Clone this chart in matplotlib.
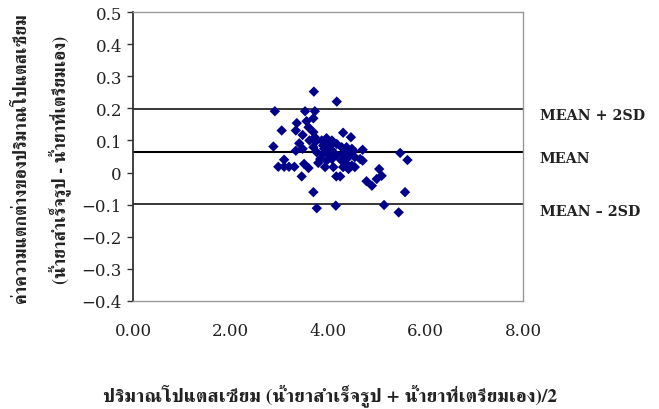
import matplotlib
matplotlib.use("Agg")
import matplotlib.pyplot as plt
from matplotlib import font_manager
from matplotlib.ft2font import FT2Font

# ---------------- data ----------------
avg_values = [
    3.71, 4.18, 2.91, 3.53, 3.73, 3.36, 3.56, 3.70, 3.05, 3.34,
    3.60, 3.70, 3.73, 4.31, 4.47, 2.88, 3.41, 3.34, 3.48, 4.71,
    5.48, 5.63, 3.10, 2.98, 3.10, 3.20, 3.31, 3.51, 3.60, 3.46,
    3.80, 3.94, 4.11, 4.17, 4.71, 5.05, 5.10, 5.00, 4.79, 4.90,
    5.58, 5.15, 5.45, 3.70, 3.77, 4.16, 3.87, 3.97, 4.08, 3.90,
    4.04, 4.18, 4.28, 4.38, 4.52, 3.70, 3.77, 3.90, 4.04, 4.18,
    4.35, 4.45, 4.55, 4.66, 3.84, 3.97, 4.08, 4.28, 4.38, 4.49,
    4.31, 4.42, 4.25, 4.38, 4.49, 4.31, 4.42, 4.55, 3.75, 3.93,
    4.08, 3.62, 3.48, 3.92, 4.00,
]
diff_values = [
    0.252, 0.221, 0.191, 0.191, 0.191, 0.154, 0.160, 0.169, 0.131, 0.131,
    0.141, 0.126, 0.110, 0.124, 0.110, 0.081, 0.091, 0.068, 0.074, 0.071,
    0.061, 0.039, 0.040, 0.018, 0.018, 0.018, 0.018, 0.027, 0.014, -0.012,
    0.030, 0.017, 0.017, -0.012, 0.037, 0.011, -0.010, -0.020, -0.027, -0.041,
    -0.061, -0.101, -0.124, -0.061, -0.111, -0.103, 0.100, 0.107, 0.100, 0.084,
    0.084, 0.089, 0.079, 0.068, 0.068, 0.079, 0.063, 0.058, 0.058, 0.053,
    0.053, 0.053, 0.048, 0.042, 0.042, 0.037, 0.042, 0.037, 0.027, 0.022,
    0.017, 0.011, -0.012, 0.079, 0.074, 0.058, 0.048, 0.017, 0.097, 0.094,
    0.070, 0.100, 0.117, 0.074, 0.063,
]
mean_line = 0.065
upper_line = 0.199
lower_line = -0.099
line_labels = ["MEAN + 2SD", "MEAN", "MEAN \u2013 2SD"]
x_ticks = [0, 2, 4, 6, 8]
y_ticks = [-0.4, -0.3, -0.2, -0.1, 0, 0.1, 0.2, 0.3, 0.4, 0.5]
x_label = "ปริมาณโปแตสเซียม (น้ำยาสำเร็จรูป + น้ำยาที่เตรียมเอง)/2"
y_label_1 = "ค่าความแตกต่างของปริมาณโปแตสเซียม"
y_label_2 = "(น้ำยาสำเร็จรูป - น้ำยาที่เตรียมเอง)"

# ------------- find a font with Thai glyphs -------------
thai_family = None
preferred = []
for f in font_manager.fontManager.ttflist:
    try:
        cm = FT2Font(f.fname).get_charmap()
    except Exception:
        continue
    if 0x0E01 in cm and 0x0E33 in cm:
        preferred.append(f)
if preferred:
    serif = [f for f in preferred if "serif" in f.name.lower() and "sans" not in f.name.lower()]
    thai_family = (serif or preferred)[0].name
label_family = [thai_family, "DejaVu Serif"] if thai_family else ["DejaVu Serif"]

# ---------------- figure ----------------
fig = plt.figure(figsize=(6.59, 4.10), dpi=100)
ax = fig.add_axes([133 / 659, 1 - 302 / 410, 390 / 659, 289 / 410])

ax.scatter(avg_values, diff_values, marker="D", s=28, color="#00008B",
           edgecolors="none", zorder=3)

for val, lw in ((upper_line, 1.1), (mean_line, 1.5), (lower_line, 1.1)):
    ax.axhline(val, color="black", lw=lw, zorder=2)

ax.set_xlim(0, 8)
ax.set_ylim(-0.4, 0.5)
ax.set_xticks(x_ticks)
ax.set_xticklabels([f"{v:.2f}" for v in x_ticks])
ax.set_yticks(y_ticks)
ax.set_yticklabels(["0" if abs(v) < 1e-9 else f"{v:.1f}".replace("-", "\u2212") for v in y_ticks])

for lab in ax.get_xticklabels() + ax.get_yticklabels():
    lab.set_fontfamily("DejaVu Serif")
    lab.set_fontsize(12)
    lab.set_color("#222222")

ax.tick_params(axis="x", length=0, pad=15)
ax.tick_params(axis="y", length=4, width=1, direction="out", pad=4, color="#333333")

ax.spines["left"].set_color("#333333")
ax.spines["left"].set_linewidth(1.3)
for s in ("top", "right", "bottom"):
    ax.spines[s].set_color("#999999")
    ax.spines[s].set_linewidth(1.0)

for val, txt in zip((upper_line, mean_line, lower_line), line_labels):
    ax.annotate(txt, xy=(1, val), xycoords=("axes fraction", "data"),
                xytext=(12, -4.5), textcoords="offset points", ha="left", va="center",
                fontsize=10.3, fontweight="bold", family="DejaVu Serif", color="#222222")

fig.text(330 / 659, 1 - 396 / 410, x_label, ha="center", va="center",
         fontsize=14, fontweight="bold", family=label_family, color="#222222")
fig.text(22 / 659, 1 - 158 / 410, y_label_1, ha="center", va="center", rotation=90,
         fontsize=13, fontweight="bold", family=label_family, color="#222222")
fig.text(60 / 659, 1 - 160 / 410, y_label_2, ha="center", va="center", rotation=90,
         fontsize=13, fontweight="bold", family=label_family, color="#222222")

fig.savefig("out.png", dpi=100)
